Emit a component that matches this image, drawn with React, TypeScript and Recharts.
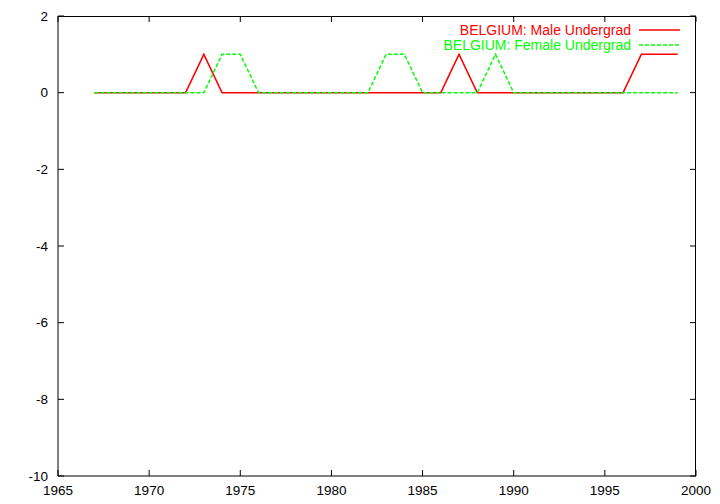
import { LineChart, Line, XAxis, YAxis, Legend } from 'recharts'

// years shown on the chart
const years = [
  1967, 1968, 1969, 1970, 1971, 1972, 1973, 1974, 1975, 1976, 1977,
  1978, 1979, 1980, 1981, 1982, 1983, 1984, 1985, 1986, 1987, 1988,
  1989, 1990, 1991, 1992, 1993, 1994, 1995, 1996, 1997, 1998, 1999
]

const maleUndergrad = [
  0, 0, 0, 0, 0, 0, 1, 0, 0, 0, 0,
  0, 0, 0, 0, 0, 0, 0, 0, 0, 1, 0,
  0, 0, 0, 0, 0, 0, 0, 0, 1, 1, 1
]

const femaleUndergrad = [
  0, 0, 0, 0, 0, 0, 0, 1, 1, 0, 0,
  0, 0, 0, 0, 0, 1, 1, 0, 0, 0, 0,
  1, 0, 0, 0, 0, 0, 0, 0, 0, 0, 0
]

const seriesNames = ['BELGIUM: Male Undergrad', 'BELGIUM: Female Undergrad']

const xDomain = [1965, 2000]
const yDomain = [-10, 2]
const xTicks = [1965, 1970, 1975, 1980, 1985, 1990, 1995, 2000]
const yTicks = [-10, -8, -6, -4, -2, 0, 2]

const COLORS = {
  male: '#ff0000',
  female: '#00ff00',
  frame: '#000000'
}

const FONT = '"Liberation Sans", Arial, Helvetica, sans-serif'
const TICK_LEN = 6

const CHART_W = 720
const CHART_H = 504
const MARGIN = { top: 16, right: 24, bottom: 0, left: 0 }
const X_AXIS_H = 28
const Y_AXIS_W = 58
const PLOT_TOP = MARGIN.top
const PLOT_BOTTOM = CHART_H - MARGIN.bottom - X_AXIS_H
const PLOT_LEFT = MARGIN.left + Y_AXIS_W
const PLOT_RIGHT = CHART_W - MARGIN.right

const data = years.map((year, i) => ({
  year,
  male: maleUndergrad[i],
  female: femaleUndergrad[i]
}))

// x ticks: inward mark on the bottom edge and its mirror on the top edge
function XTick({ x, y, payload }: any) {
  return (
    <g>
      <line x1={x} y1={y} x2={x} y2={y - TICK_LEN} stroke={COLORS.frame} />
      <line x1={x} y1={PLOT_TOP + 0.5} x2={x} y2={PLOT_TOP + TICK_LEN} stroke={COLORS.frame} />
      <text x={x} y={y + 14} textAnchor="middle" dominantBaseline="central"
        fontFamily={FONT} fontSize={13.5} fill="#000">
        {payload.value}
      </text>
    </g>
  )
}

// y ticks: inward mark on the left edge and its mirror on the right edge
function YTick({ x, y, payload }: any) {
  return (
    <g>
      <line x1={x} y1={y} x2={x + TICK_LEN} y2={y} stroke={COLORS.frame} />
      <line x1={PLOT_RIGHT} y1={y} x2={PLOT_RIGHT - TICK_LEN} y2={y} stroke={COLORS.frame} />
      <text x={x - 10} y={y} textAnchor="end" dominantBaseline="central"
        fontFamily={FONT} fontSize={13.5} fill="#000">
        {payload.value}
      </text>
    </g>
  )
}

function KeyBox({ payload }: any) {
  const items = [...(payload || [])].sort(
    (a: any, b: any) => seriesNames.indexOf(a.value) - seriesNames.indexOf(b.value)
  )
  return (
    <div style={{ fontFamily: FONT, fontSize: 14 }}>
      {items.map((item: any) => (
        <div key={item.value} style={{ display: 'flex', alignItems: 'center', justifyContent: 'flex-end', height: 15.5 }}>
          <span style={{ color: item.color, whiteSpace: 'nowrap' }}>{item.value}</span>
          <svg width={41} height={6} style={{ marginLeft: 8 }}>
            <line x1={0} y1={3} x2={41} y2={3} stroke={item.color} strokeWidth={1.5}
              strokeDasharray={item.payload?.strokeDasharray} />
          </svg>
        </div>
      ))}
    </div>
  )
}

export default function App() {
  return (
    <div style={{ position: 'absolute', left: 0, top: 0, width: CHART_W, height: CHART_H, background: '#fff' }}>
      <LineChart width={CHART_W} height={CHART_H} data={data} margin={MARGIN}>
        <XAxis dataKey="year" type="number" domain={xDomain} ticks={xTicks}
          height={X_AXIS_H} tickSize={0} tickMargin={0} tick={<XTick />}
          axisLine={{ stroke: COLORS.frame }} tickLine={false} />
        <YAxis type="number" domain={yDomain} ticks={yTicks} width={Y_AXIS_W}
          tickSize={0} tickMargin={0} tick={<YTick />}
          axisLine={{ stroke: COLORS.frame }} tickLine={false} />
        <Legend layout="horizontal" verticalAlign="middle" align="center" content={<KeyBox />}
          wrapperStyle={{ position: 'absolute', top: 22, left: 'auto', right: 40, width: 'auto' }} />
        <Line type="linear" dataKey="male" name={seriesNames[0]} stroke={COLORS.male}
          strokeWidth={1.5} dot={false} isAnimationActive={false} />
        <Line type="linear" dataKey="female" name={seriesNames[1]} stroke={COLORS.female}
          strokeWidth={1.5} strokeDasharray="4 2" dot={false} isAnimationActive={false} />
      </LineChart>
      {/* top and right edges of the plot frame */}
      <div style={{
        position: 'absolute', left: PLOT_LEFT, top: PLOT_TOP - 0.5,
        width: PLOT_RIGHT - PLOT_LEFT, height: PLOT_BOTTOM - PLOT_TOP,
        borderTop: `1px solid ${COLORS.frame}`, borderRight: `1px solid ${COLORS.frame}`,
        boxSizing: 'border-box', pointerEvents: 'none'
      }} />
    </div>
  )
}
